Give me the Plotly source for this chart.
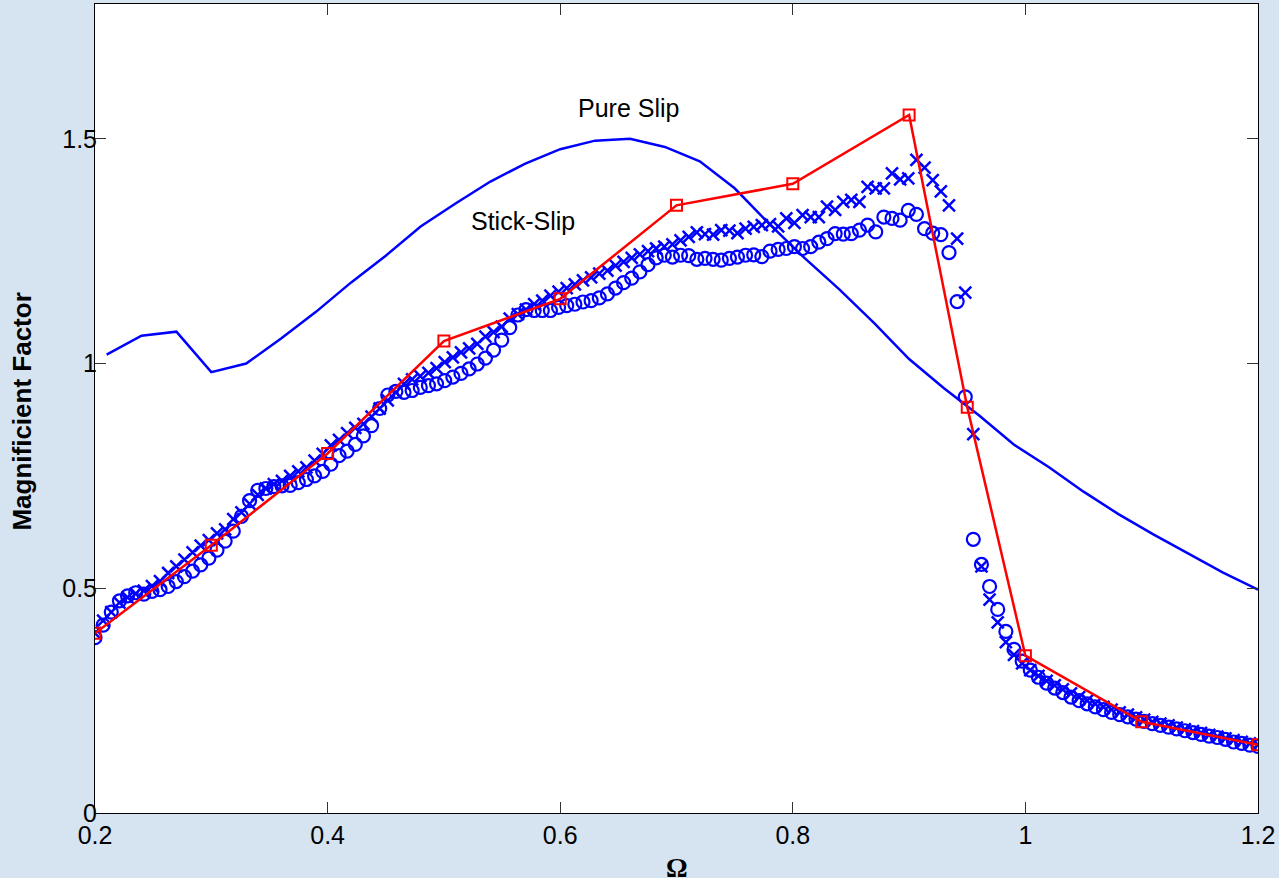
import numpy as np
import plotly.graph_objects as go

# ---------------- data ----------------
OMEGA = np.round(np.linspace(0.2, 1.2, 144), 4)

STICK_SLIP_O = [
    0.39, 0.418, 0.447, 0.472, 0.483, 0.49, 0.487, 0.493, 0.497, 0.504,
    0.515, 0.526, 0.538, 0.552, 0.567, 0.585, 0.605, 0.627, 0.66, 0.695,
    0.718, 0.722, 0.726, 0.728, 0.729, 0.735, 0.742, 0.75, 0.76, 0.776,
    0.795, 0.805, 0.82, 0.839, 0.862, 0.9, 0.93, 0.938, 0.936, 0.94,
    0.947, 0.951, 0.955, 0.962, 0.97, 0.978, 0.988, 0.999, 1.012, 1.03,
    1.052, 1.08, 1.108, 1.12, 1.118, 1.118, 1.118, 1.125, 1.129, 1.132,
    1.137, 1.14, 1.146, 1.155, 1.168, 1.18, 1.19, 1.204, 1.22, 1.235,
    1.241, 1.237, 1.241, 1.24, 1.232, 1.234, 1.232, 1.23, 1.234, 1.237,
    1.241, 1.242, 1.238, 1.25, 1.254, 1.256, 1.26, 1.256, 1.26, 1.27,
    1.278, 1.289, 1.288, 1.289, 1.297, 1.308, 1.293, 1.326, 1.323, 1.319,
    1.341, 1.332, 1.30, 1.29, 1.287, 1.247, 1.138, 0.926, 0.609, 0.553,
    0.504, 0.453, 0.404, 0.364, 0.338, 0.318, 0.302, 0.289, 0.278, 0.268,
    0.258, 0.25, 0.243, 0.236, 0.23, 0.224, 0.219, 0.214, 0.209, 0.204,
    0.199, 0.195, 0.191, 0.187, 0.183, 0.179, 0.175, 0.171, 0.168, 0.164,
    0.158, 0.155, 0.151, 0.148,
]

STICK_SLIP_X = [
    0.40, 0.428, 0.447, 0.468, 0.48, 0.488, 0.495, 0.505, 0.516, 0.534,
    0.549, 0.564, 0.58, 0.595, 0.607, 0.622, 0.631, 0.654, 0.669, 0.688,
    0.708, 0.722, 0.732, 0.739, 0.75, 0.76, 0.769, 0.784, 0.799, 0.818,
    0.83, 0.845, 0.857, 0.866, 0.882, 0.9, 0.918, 0.936, 0.955, 0.965,
    0.972, 0.979, 0.99, 1.003, 1.014, 1.025, 1.034, 1.044, 1.06, 1.07,
    1.082, 1.1, 1.11, 1.12, 1.132, 1.14, 1.151, 1.16, 1.168, 1.176,
    1.185, 1.192, 1.2, 1.207, 1.218, 1.226, 1.235, 1.243, 1.25, 1.256,
    1.26, 1.265, 1.274, 1.282, 1.292, 1.288, 1.287, 1.297, 1.296, 1.29,
    1.3, 1.304, 1.308, 1.31, 1.305, 1.323, 1.313, 1.33, 1.326, 1.326,
    1.349, 1.342, 1.36, 1.364, 1.36, 1.393, 1.39, 1.39, 1.423, 1.41,
    1.412, 1.453, 1.436, 1.408, 1.383, 1.352, 1.278, 1.158, 0.843, 0.549,
    0.475, 0.424, 0.38, 0.352, 0.333, 0.318, 0.305, 0.294, 0.284, 0.275,
    0.266, 0.258, 0.25, 0.243, 0.236, 0.23, 0.224, 0.219, 0.213, 0.208,
    0.203, 0.199, 0.195, 0.19, 0.186, 0.182, 0.178, 0.174, 0.17, 0.166,
    0.162, 0.158, 0.155, 0.152,
]

EXP_OMEGA = [0.2, 0.3, 0.4, 0.5, 0.6, 0.7, 0.8, 0.9, 0.95, 1.0, 1.1, 1.2]
EXP_VALUES = [0.40, 0.596, 0.80, 1.05, 1.144, 1.352, 1.40, 1.553, 0.903, 0.35, 0.203, 0.152]

PURE_OMEGA = [0.21, 0.24, 0.27, 0.30, 0.33, 0.36, 0.39, 0.42, 0.45, 0.48,
              0.51, 0.54, 0.57, 0.60, 0.63, 0.66, 0.69, 0.72, 0.75, 0.78,
              0.81, 0.84, 0.87, 0.90, 0.93, 0.96, 0.99, 1.02, 1.05, 1.08,
              1.11, 1.14, 1.17, 1.20]
PURE_VALUES = [1.02, 1.062, 1.071, 0.981, 1.0, 1.056, 1.115, 1.18, 1.24, 1.305,
               1.356, 1.405, 1.445, 1.477, 1.496, 1.5, 1.482, 1.45, 1.39, 1.31,
               1.235, 1.165, 1.09, 1.01, 0.945, 0.885, 0.82, 0.77, 0.715, 0.665,
               0.62, 0.578, 0.535, 0.497]

X_TICKS = [0.2, 0.4, 0.6, 0.8, 1.0, 1.2]
X_TICK_LABELS = ["0.2", "0.4", "0.6", "0.8", "1", "1.2"]
Y_TICKS = [0, 0.5, 1.0, 1.5]
Y_TICK_LABELS = ["0", "0.5", "1", "1.5"]

# ---------------- figure ----------------
BLUE = "#0000ff"
RED = "#ff0000"
SANS = "Liberation Sans, Arial, Helvetica, sans-serif"

fig = go.Figure()

fig.add_trace(go.Scatter(
    x=OMEGA, y=STICK_SLIP_O, mode="markers", name="o",
    marker=dict(symbol="circle-open", size=13, color=BLUE, line=dict(width=2.2, color=BLUE)),
))
fig.add_trace(go.Scatter(
    x=OMEGA, y=STICK_SLIP_X, mode="markers", name="x",
    marker=dict(symbol="x-thin-open", size=12, color=BLUE, line=dict(width=2.5, color=BLUE)),
))
fig.add_trace(go.Scatter(
    x=PURE_OMEGA, y=PURE_VALUES, mode="lines", name="Pure Slip",
    line=dict(color=BLUE, width=2.5),
))
fig.add_trace(go.Scatter(
    x=EXP_OMEGA, y=EXP_VALUES, mode="lines+markers", name="Exp",
    line=dict(color=RED, width=2.5),
    marker=dict(symbol="square-open", size=11, color=RED, line=dict(width=2, color=RED)),
))

axis_common = dict(
    showgrid=False, zeroline=False,
    showline=True, linecolor="black", linewidth=1, mirror="ticks",
    ticks="inside", ticklen=11, tickwidth=1, tickcolor="#333333",
    tickfont=dict(family=SANS, size=25, color="black"),
)

fig.update_xaxes(range=[0.2, 1.2], tickvals=X_TICKS, ticktext=X_TICK_LABELS, **axis_common)
fig.update_yaxes(range=[0, 1.8], tickvals=Y_TICKS, ticktext=Y_TICK_LABELS,
                 ticklabelstandoff=-8, **axis_common)

fig.add_annotation(x=0.659, y=1.568, xref="x", yref="y", text="Pure Slip", showarrow=False,
                   font=dict(family=SANS, size=25, color="black"), xanchor="center", yanchor="middle")
fig.add_annotation(x=0.568, y=1.318, xref="x", yref="y", text="Stick-Slip", showarrow=False,
                   font=dict(family=SANS, size=25, color="black"), xanchor="center", yanchor="middle")

# axis titles
fig.add_annotation(x=-0.0627, y=(813 - 411.5) / 809, xref="paper", yref="paper",
                   text="<b>Magnificient Factor</b>", textangle=-90, showarrow=False,
                   font=dict(family=SANS, size=26, color="black"),
                   xanchor="center", yanchor="middle")
fig.add_annotation(x=0.5, y=(813 - 868) / 809, xref="paper", yref="paper",
                   text="<b>Ω</b>", showarrow=False,
                   font=dict(family="Liberation Serif, Times New Roman, serif", size=27, color="black"),
                   xanchor="center", yanchor="middle")

fig.update_layout(
    width=1279, height=878,
    margin=dict(l=95, r=21, t=4, b=65),
    paper_bgcolor="#d6e4f2",
    plot_bgcolor="white",
    showlegend=False,
)

fig.write_html(
    "out.html",
    config={"displayModeBar": False},
    post_script="document.body.style.margin='0px';document.body.style.overflow='hidden';"
                "document.body.style.background='#d6e4f2';",
)
